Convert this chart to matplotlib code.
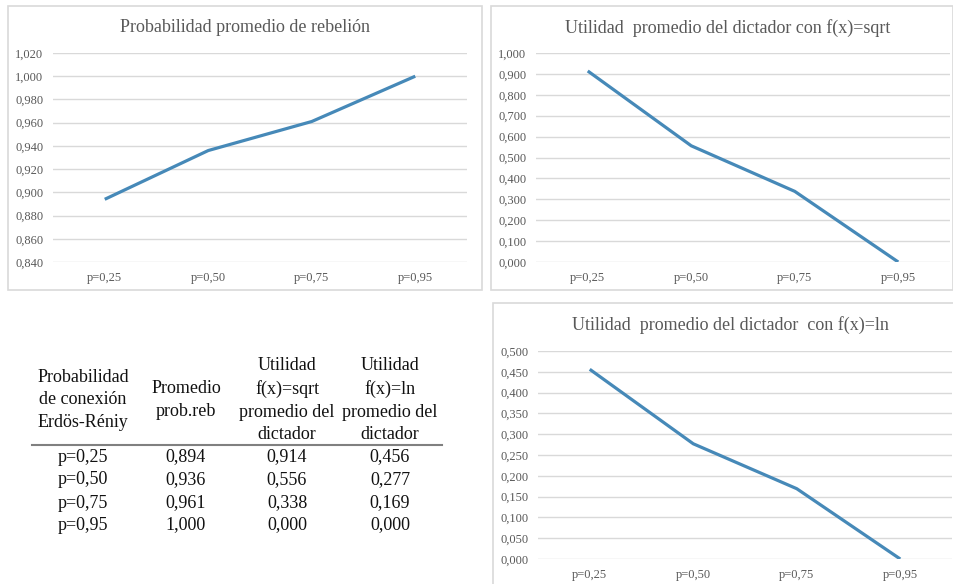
import matplotlib
matplotlib.use("Agg")
import matplotlib.pyplot as plt
from matplotlib.patches import Rectangle
from matplotlib.lines import Line2D
from matplotlib.ticker import FuncFormatter

plt.rcParams['font.family'] = ['Liberation Serif', 'DejaVu Serif']

# data
categories = ['p=0,25', 'p=0,50', 'p=0,75', 'p=0,95']
prob_reb = [0.894, 0.936, 0.961, 1.000]
util_sqrt = [0.914, 0.556, 0.338, 0.000]
util_ln = [0.456, 0.277, 0.169, 0.000]

titles = ['Probabilidad promedio de rebelión',
          'Utilidad  promedio del dictador con f(x)=sqrt',
          'Utilidad  promedio del dictador  con f(x)=ln']

table_headers = ['Probabilidad\nde conexión\nErdös-Réniy',
                 'Promedio\nprob.reb',
                 'Utilidad\nf(x)=sqrt\npromedio del\ndictador',
                 'Utilidad\nf(x)=ln\npromedio del\ndictador']

W, H = 954, 584
line_color = '#4689b8'
text_grey = '#595959'
grid_grey = '#d9d9d9'

fig = plt.figure(figsize=(W / 100, H / 100), dpi=100)


def px_axes(x0, y0, x1, y1):
    # pixel box (top-left origin) -> figure axes
    return fig.add_axes([x0 / W, 1 - y1 / H, (x1 - x0) / W, (y1 - y0) / H])


def px_box(x0, y0, x1, y1):
    fig.patches.append(Rectangle((x0 / W, 1 - y1 / H), (x1 - x0) / W, (y1 - y0) / H,
                                 transform=fig.transFigure, fill=False,
                                 edgecolor=grid_grey, linewidth=1.2))


comma_fmt = FuncFormatter(lambda v, pos: f'{v:.3f}'.replace('.', ','))


def line_chart(ax, values, title, ymin, ymax, step, title_xy):
    x = range(len(categories))
    ax.plot(x, values, color=line_color, linewidth=2.3, solid_capstyle='butt')
    ax.set_xlim(-0.5, len(categories) - 0.5)
    ax.set_ylim(ymin, ymax)
    n = int(round((ymax - ymin) / step))
    ax.set_yticks([ymin + i * step for i in range(n + 1)])
    ax.yaxis.set_major_formatter(comma_fmt)
    ax.set_xticks(list(x))
    ax.set_xticklabels(categories)
    ax.tick_params(length=0, labelsize=9, labelcolor=text_grey)
    ax.tick_params(axis='y', pad=7)
    ax.tick_params(axis='x', pad=7)
    for s in ax.spines.values():
        s.set_visible(False)
    ax.grid(axis='y', color=grid_grey, linewidth=1)
    ax.set_axisbelow(True)
    fig.text(title_xy[0] / W, 1 - title_xy[1] / H, title, ha='center', va='center',
             fontsize=13, color=text_grey)


# panel borders
px_box(8, 6, 482, 290)
px_box(491, 6, 953, 290)
px_box(493, 303, 960, 600)

ax1 = px_axes(53, 53, 467, 262)
line_chart(ax1, prob_reb, titles[0], 0.84, 1.02, 0.02, (245, 28))

ax2 = px_axes(536, 53, 950, 262)
line_chart(ax2, util_sqrt, titles[1], 0.0, 1.0, 0.1, (728, 28))

ax3 = px_axes(538, 351, 952, 559)
line_chart(ax3, util_ln, titles[2], 0.0, 0.5, 0.05, (730, 325))

# table
col_x = [83, 186, 287, 390]
header_y = 400
row_y = [457, 480, 503, 525]
for cx, head in zip(col_x, table_headers):
    fig.text(cx / W, 1 - header_y / H, head, ha='center', va='center',
             multialignment='center', fontsize=13, linespacing=1.45, color='#111111')

fig.lines.append(Line2D([32 / W, 442 / W], [1 - 445 / H, 1 - 445 / H],
                        transform=fig.transFigure, color='#808080', linewidth=1.5))

fmt = lambda v: f'{v:.3f}'.replace('.', ',')
columns = [categories,
           [fmt(v) for v in prob_reb],
           [fmt(v) for v in util_sqrt],
           [fmt(v) for v in util_ln]]
for cx, col in zip(col_x, columns):
    for ry, val in zip(row_y, col):
        fig.text(cx / W, 1 - ry / H, val, ha='center', va='center',
                 fontsize=13, color='#111111')

fig.savefig('out.png', dpi=100, facecolor='white')
